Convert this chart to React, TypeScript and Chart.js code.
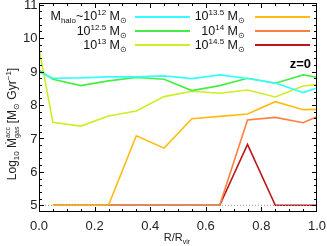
import React, { useEffect, useRef } from "react";
import { Chart, registerables } from "chart.js";

Chart.register(...registerables);

const xs = [0, 0.05, 0.15, 0.25, 0.35, 0.45, 0.55, 0.65, 0.75, 0.85, 0.95, 1.0];
const m12 = [8.99, 8.8, 8.81, 8.84, 8.84, 8.87, 8.79, 8.9, 8.79, 8.66, 8.37, 8.51];
const m125 = [9.04, 8.77, 8.58, 8.72, 8.82, 8.77, 8.43, 8.58, 8.8, 8.65, 8.9, 8.83];
const m13 = [9.69, 7.48, 7.37, 7.67, 7.82, 8.25, 8.41, 8.35, 8.45, 8.24, 8.57, 8.61];
const m135 = [null, 5, 5, 5, 7.08, 6.71, 7.59, 7.66, 7.73, 8.1, 7.86, 7.87];
const m14 = [null, 5, 5, 5, 5, 5, 5, 5, 7.55, 7.63, 7.47, 7.65];
const m145 = [null, 5, 5, 5, 5, 5, 5, 5, 6.82, 5, 5, 5];
const floorLine = [5, 5];
const floorX = [0, 1];

const seriesLabels = ["12", "12.5", "13", "13.5", "14", "14.5"];
const seriesValues = [m12, m125, m13, m135, m14, m145];
const seriesColors = ["#33ffff", "#44ee44", "#ccee22", "#ffbb11", "#ff7f3f", "#bb1515"];

const xTicks = [0, 0.2, 0.4, 0.6, 0.8, 1.0];
const yTicks = [5, 6, 7, 8, 9, 10, 11];

type Seg = { t: string; s: number; dy?: number; bold?: boolean; stack?: [string, number, number][] };

const FONT = "'Liberation Sans', Arial, sans-serif";

function segWidth(ctx: CanvasRenderingContext2D, g: Seg) {
  if (g.stack) {
    let w = 0;
    for (const [t, s] of g.stack) {
      ctx.font = `${s}px ${FONT}`;
      w = Math.max(w, ctx.measureText(t).width);
    }
    return w;
  }
  ctx.font = `${g.bold ? "bold " : ""}${g.s}px ${FONT}`;
  return ctx.measureText(g.t).width;
}

function drawRich(ctx: CanvasRenderingContext2D, segs: Seg[], x: number, y: number, align: "left" | "right" | "center") {
  const widths = segs.map((g) => segWidth(ctx, g));
  const total = widths.reduce((a, b) => a + b, 0);
  let cx = align === "left" ? x : align === "right" ? x - total : x - total / 2;
  ctx.textAlign = "left";
  ctx.textBaseline = "alphabetic";
  segs.forEach((g, i) => {
    if (g.stack) {
      for (const [t, s, dy] of g.stack) {
        ctx.font = `${s}px ${FONT}`;
        ctx.fillText(t, cx, y + dy);
      }
    } else {
      ctx.font = `${g.bold ? "bold " : ""}${g.s}px ${FONT}`;
      ctx.fillText(g.t, cx, y + (g.dy || 0));
    }
    cx += widths[i];
  });
}

const overlay = {
  id: "overlay",
  afterDraw(chart: any) {
    const ctx: CanvasRenderingContext2D = chart.ctx;
    const { left, right, top, bottom } = chart.chartArea;
    const xs_ = chart.scales.x;
    const ys_ = chart.scales.y;
    ctx.save();
    ctx.setLineDash([]);
    ctx.globalAlpha = 1;
    ctx.fillStyle = "#000";
    const L0 = Math.round(left), R0 = Math.round(right), T0 = Math.round(top), B0 = Math.round(bottom);
    ctx.fillRect(L0, T0, R0 - L0, 1);
    ctx.fillRect(L0, B0 - 1, R0 - L0, 1);
    ctx.fillRect(L0, T0, 1, B0 - T0);
    ctx.fillRect(R0 - 1, T0, 1, B0 - T0);
    for (let i = 0; i <= 20; i++) {
      const v = i * 0.05;
      const px = Math.round(xs_.getPixelForValue(v));
      const major = i % 4 === 0;
      const L = major ? 5 : 3;
      const cx = Math.min(Math.max(px, L0), R0 - 1);
      ctx.fillRect(cx, B0 - L, 1, L);
      ctx.fillRect(cx, T0, 1, L);
    }
    for (let i = 0; i <= 31; i++) {
      const v = 4.8 + i * 0.2;
      if (v > 11.06) break;
      const py = Math.round(ys_.getPixelForValue(v));
      const major = Math.abs(v - Math.round(v)) < 0.01;
      const L = major ? 5 : 3;
      const cy = Math.min(Math.max(py, T0), B0 - 1);
      ctx.fillRect(L0, cy, L, 1);
      ctx.fillRect(R0 - L, cy, L, 1);
    }

    // tick labels
    ctx.fillStyle = "#222";
    ctx.font = `13px ${FONT}`;
    ctx.textAlign = "center";
    ctx.textBaseline = "alphabetic";
    for (const v of xTicks) {
      ctx.fillText(v.toFixed(1), xs_.getPixelForValue(v), 230);
    }
    ctx.textAlign = "right";
    ctx.textBaseline = "middle";
    for (const v of yTicks) {
      ctx.fillText(String(v), 37.5, ys_.getPixelForValue(v) + 0.5);
    }

    // legend
    ctx.fillStyle = "#111";
    const rowsY = [20, 34.5, 49];
    const lineY = [17, 31, 45];
    const B = 12.5;
    const S = 8;
    const col1: Seg[][] = [
      [
        { t: "M", s: B },
        { t: "halo", s: S, dy: 3 },
        { t: "~10", s: B },
        { t: seriesLabels[0], s: S, dy: -5 },
        { t: " M", s: B },
        { t: "⊙", s: S, dy: 3 },
      ],
      [
        { t: "10", s: B },
        { t: seriesLabels[1], s: S, dy: -5 },
        { t: " M", s: B },
        { t: "⊙", s: S, dy: 3 },
      ],
      [
        { t: "10", s: B },
        { t: seriesLabels[2], s: S, dy: -5 },
        { t: " M", s: B },
        { t: "⊙", s: S, dy: 3 },
      ],
    ];
    const col2: Seg[][] = [3, 4, 5].map((k) => [
      { t: "10", s: B },
      { t: seriesLabels[k], s: S, dy: -5 },
      { t: " M", s: B },
      { t: "⊙", s: S, dy: 3 },
    ]);
    for (let r = 0; r < 3; r++) {
      drawRich(ctx, col1[r], 127, rowsY[r], "right");
      drawRich(ctx, col2[r], 245, rowsY[r], "right");
      ctx.fillStyle = seriesColors[r];
      ctx.fillRect(135, lineY[r] - 1, 55, 2);
      ctx.fillStyle = seriesColors[r + 3];
      ctx.fillRect(255, lineY[r] - 1, 55, 2);
      ctx.fillStyle = "#111";
    }
    // z=0
    ctx.fillStyle = "#000";
    drawRich(ctx, [{ t: "z=0", s: 13, bold: true }], 311, 68, "right");

    // x title
    ctx.fillStyle = "#222";
    drawRich(ctx, [{ t: "R/R", s: 11 }, { t: "vir", s: 7, dy: 3 }], 177, 241, "center");

    // y title
    ctx.save();
    ctx.translate(16, 124);
    ctx.rotate(-Math.PI / 2);
    drawRich(
      ctx,
      [
        { t: "Log", s: 12 },
        { t: "10", s: 8, dy: 3 },
        { t: " Ṁ", s: 12 },
        { t: "", s: 8, stack: [["acc", 7, -6], ["gas", 7, 3]] },
        { t: " [M", s: 12 },
        { t: "⊙", s: 8, dy: 3 },
        { t: " Gyr", s: 12 },
        { t: "−1", s: 8, dy: -5 },
        { t: "]", s: 12 },
      ],
      0,
      0,
      "center"
    );
    ctx.restore();
    ctx.restore();
  },
};

export default function App() {
  const ref = useRef<HTMLCanvasElement | null>(null);
  useEffect(() => {
    if (!ref.current) return;
    const datasets: any[] = [
      {
        label: "floor",
        data: floorX.map((x, i) => ({ x, y: floorLine[i] })),
        borderColor: "#999",
        borderWidth: 1,
        borderDash: [1, 2],
        pointRadius: 0,
      },
      ...seriesValues.map((vals, k) => ({
        label: seriesLabels[k],
        data: xs.map((x, i) => ({ x, y: vals[i] })).filter((p) => p.y !== null),
        borderColor: seriesColors[k],
        borderWidth: 1.6,
        pointRadius: 0,
        tension: 0,
      })),
    ];
    const chart = new Chart(ref.current, {
      type: "line",
      data: { datasets },
      options: {
        animation: false,
        responsive: false,
        layout: { padding: { left: 39, top: 3, right: 10, bottom: 34 } },
        plugins: { legend: { display: false }, tooltip: { enabled: false } },
        scales: {
          x: { type: "linear", min: 0, max: 1, display: false },
          y: { type: "linear", min: 4.8, max: 11.05, display: false },
        },
      },
      plugins: [overlay],
    } as any);
    return () => chart.destroy();
  }, []);
  return (
    <div style={{ position: "fixed", left: 0, top: 0, width: 327, height: 246, background: "#fff" }}>
      <canvas ref={ref} width={327} height={246} />
    </div>
  );
}
